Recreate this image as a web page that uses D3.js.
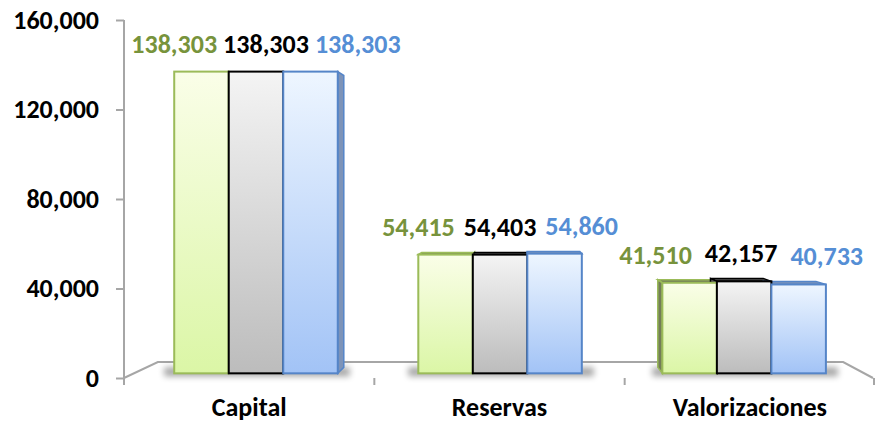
<!DOCTYPE html>
<html>
<head>
<meta charset="utf-8">
<script src="https://cdn.jsdelivr.net/npm/d3@7"></script>
<style>
	body { margin: 0; background: #fff; }
	svg text { font-family: Carlito, Lato, "Open Sans", sans-serif; font-weight: bold; }
</style>
</head>
<body>
<div id="chart"></div>
<script>
// chart values
const categories = ["Capital", "Reservas", "Valorizaciones"];
const seriesKeys = ["s1", "s2", "s3"];
const serie1 = [138303, 54415, 41510];
const serie2 = [138303, 54403, 42157];
const serie3 = [138303, 54860, 40733];
const yTicks = [0, 40000, 80000, 120000, 160000];

const width = 877, height = 424;

// look of each series: label colour, border, gradient top/bottom, side face
const looks = [
	{label: "#77933c", stroke: "#9bbb59", top: "#fafee8", bottom: "#dbf6a6", side: "#737d58"},
	{label: "#000000", stroke: "#000000", top: "#f4f4f4", bottom: "#bcbcbc", side: "#555555"},
	{label: "#558ed5", stroke: "#5585c8", top: "#eef6ff", bottom: "#a2c3f6", side: "#7d93b8"}
];

const table = categories.map((c, i) => ({
	cat: c,
	values: [serie1[i], serie2[i], serie3[i]]
}));

const svg = d3.select("#chart").append("svg")
	.attr("width", width)
	.attr("height", height);

const defs = svg.append("defs");
looks.forEach((l, i) => {
	const g = defs.append("linearGradient")
		.attr("id", "grad" + i)
		.attr("x1", 0).attr("y1", 0).attr("x2", 0).attr("y2", 1);
	g.append("stop").attr("offset", "0%").attr("stop-color", l.top);
	g.append("stop").attr("offset", "100%").attr("stop-color", l.bottom);
});
defs.append("filter").attr("id", "blur")
	.attr("x", "-20%").attr("y", "-200%").attr("width", "140%").attr("height", "500%")
	.append("feGaussianBlur").attr("stdDeviation", 3);

// front plane scales
const y = d3.scaleLinear().domain([0, 160000]).range([378, 20]);
const x = d3.scaleBand().domain(categories).range([124, 875])
	.paddingInner(0.33).paddingOuter(0.165);
const xs = d3.scaleBand().domain(seriesKeys).range([0, x.bandwidth()]);

// simple perspective: vanishing point and depth of bars
const vp = {x: 522, y: 191};
const sFront = 0.975, sBack = 0.943, sFloor = 0.915;
const proj = (px, py, s) => [vp.x + (px - vp.x) * s, vp.y + (py - vp.y) * s];
const pts = arr => arr.map(p => p.join(",")).join(" ");

// floor
const y0 = y(0);
const xL = x.range()[0], xR = x.range()[1] - 2;
const floor = [[xL, y0], proj(xL, y0, sFloor), proj(xR, y0, sFloor), [xR, y0]];
svg.append("polyline")
	.attr("points", pts(floor))
	.attr("fill", "none")
	.attr("stroke", "#a6a6a6")
	.attr("stroke-width", 2);

// y axis
const yAxis = svg.append("g")
	.attr("transform", "translate(" + xL + ",0)")
	.call(d3.axisLeft(y).tickValues(yTicks).tickFormat(d3.format(",")).tickSize(8).tickPadding(17));
yAxis.select(".domain").attr("stroke", "#a6a6a6").attr("stroke-width", 2)
	.attr("d", "M0," + y(160000) + "V" + (y0 + 6));
yAxis.selectAll(".tick line").attr("stroke", "#a6a6a6").attr("stroke-width", 2);
yAxis.selectAll("text").attr("font-size", 26).attr("fill", "#000")
	.style("font-family", "Carlito, Lato, sans-serif").style("font-weight", "bold");

// x axis: labels at centre, tick marks on category borders
const xAxis = svg.append("g")
	.attr("transform", "translate(0," + y0 + ")")
	.call(d3.axisBottom(x).tickSize(0));
xAxis.select(".domain").remove();
xAxis.selectAll("text").attr("font-size", 26).attr("fill", "#000")
	.attr("y", 38).attr("dy", null)
	.style("font-family", "Carlito, Lato, sans-serif").style("font-weight", "bold");
const step = x.step();
const borders = categories.map(c => x(c) - step * x.paddingOuter()).concat([x.range()[1] - 1]);
svg.append("g").selectAll("line").data(borders).enter().append("line")
	.attr("x1", d => d).attr("x2", d => d)
	.attr("y1", y0).attr("y2", y0 + 7)
	.attr("stroke", "#a6a6a6").attr("stroke-width", 2);

// shadows under each group
svg.append("g").selectAll("rect").data(table).enter().append("rect")
	.each(function(d) {
		const a = proj(x(d.cat), y0, sFront), b = proj(x(d.cat) + x.bandwidth(), y0, sFront);
		d3.select(this)
			.attr("x", a[0] - 10).attr("width", b[0] - a[0] + 22)
			.attr("y", a[1] - 6).attr("height", 9);
	})
	.attr("fill", "#000").attr("opacity", 0.35).attr("filter", "url(#blur)");

// build faces of bars
const bars = [];
table.forEach(d => {
	d.values.forEach((v, i) => {
		const x0 = x(d.cat) + xs(seriesKeys[i]);
		const x1 = x0 + xs.bandwidth();
		bars.push({cat: d.cat, i: i, v: v, x0: x0, x1: x1, yt: y(v)});
	});
});

const back = svg.append("g"), front = svg.append("g");
bars.forEach(b => {
	const l = looks[b.i];
	if (b.yt > vp.y) {
		back.append("polygon")
			.attr("points", pts([proj(b.x0, b.yt, sFront), proj(b.x1, b.yt, sFront), proj(b.x1, b.yt, sBack), proj(b.x0, b.yt, sBack)]))
			.attr("fill", l.side).attr("stroke", l.stroke).attr("stroke-width", 1.5);
	}
	if (b.x1 < vp.x) {
		back.append("polygon")
			.attr("points", pts([proj(b.x1, b.yt, sFront), proj(b.x1, y0, sFront), proj(b.x1, y0, sBack), proj(b.x1, b.yt, sBack)]))
			.attr("fill", l.side).attr("stroke", l.stroke).attr("stroke-width", 1.5);
	}
	if (b.x0 > vp.x) {
		back.append("polygon")
			.attr("points", pts([proj(b.x0, b.yt, sFront), proj(b.x0, y0, sFront), proj(b.x0, y0, sBack), proj(b.x0, b.yt, sBack)]))
			.attr("fill", l.side).attr("stroke", l.stroke).attr("stroke-width", 1.5);
	}
	const p0 = proj(b.x0, b.yt, sFront), p1 = proj(b.x1, y0, sFront);
	front.append("rect")
		.attr("x", p0[0]).attr("y", p0[1])
		.attr("width", p1[0] - p0[0]).attr("height", p1[1] - p0[1])
		.attr("fill", "url(#grad" + b.i + ")")
		.attr("stroke", l.stroke).attr("stroke-width", 2);
});

// value labels, spread out above each group
const labelGap = [6, 9, 13];
const labelNudge = [10, 0, -3];
const fmt = d3.format(",");
const labels = svg.append("g");
table.forEach((d, ci) => {
	const cx = proj(x(d.cat) + x.bandwidth() / 2, y0, sFront)[0] + labelNudge[ci];
	const texts = d.values.map((v, i) => {
		const top = proj(0, y(v), sFront)[1];
		return labels.append("text")
			.attr("y", top - 19)
			.attr("text-anchor", "middle")
			.attr("font-size", 26)
			.attr("fill", looks[i].label)
			.text(fmt(v));
	});
	const w = d3.max(texts, t => t.node().getComputedTextLength());
	texts.forEach((t, i) => t.attr("x", cx + (i - 1) * (w + labelGap[ci])));
});
</script>
</body>
</html>
